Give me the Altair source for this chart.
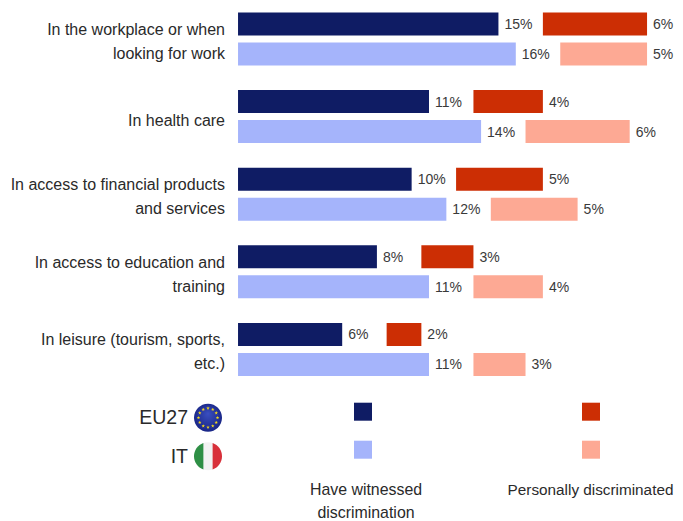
import math
import altair as alt
import pandas as pd

categories = ["In the workplace or when\nlooking for work", "In health care",
              "In access to financial products\nand services",
              "In access to education and\ntraining",
              "In leisure (tourism, sports,\netc.)"]
witnessed_eu = [15, 11, 10, 8, 6]
witnessed_it = [16, 14, 12, 11, 11]
personal_eu = [6, 4, 5, 3, 2]
personal_it = [5, 6, 5, 4, 3]
series = ["EU27", "IT"]
GAP = 2.56  # space (in % units) left between the two bars for the value label

FONT = "Liberation Sans"
TXT = "#3a3a3a"
W, H = 667, 513

rows = []
for i, c in enumerate(categories):
    for s, w, p in (("EU27", witnessed_eu[i], personal_eu[i]), ("IT", witnessed_it[i], personal_it[i])):
        rows.append(dict(cat=c, series=s, w=w, p=p, zero=0, p0=w + GAP, p1=w + GAP + p,
                         wl=f"{w}%", pl=f"{p}%"))
df = pd.DataFrame(rows)

xs = alt.Scale(domain=[-13.25, 25.17], range=[0, W], nice=False, zero=False)
ys = alt.Scale(domain=categories, range=[-7.8, 380.2], paddingInner=0, paddingOuter=0)
yo = alt.Scale(domain=series, paddingInner=0.233, paddingOuter=0.41)
Y = alt.Y("cat:N", scale=ys, axis=None)
YO = alt.YOffset("series:N", scale=yo)

base = alt.Chart(df)
bar_w = base.mark_bar(cornerRadius=0).encode(
    x=alt.X("zero:Q", scale=xs, axis=None), x2="w:Q", y=Y, yOffset=YO,
    color=alt.Color("series:N", scale=alt.Scale(domain=series, range=["#0f1c64", "#a5b4fb"]), legend=None))
bar_p = base.mark_bar(cornerRadius=0).encode(
    x=alt.X("p0:Q", scale=xs, axis=None), x2="p1:Q", y=Y, yOffset=YO,
    fill=alt.Fill("series:N", scale=alt.Scale(domain=series, range=["#cc2e04", "#fda994"]), legend=None))
lab_w = base.mark_text(font=FONT, fontSize=14, color=TXT, align="left", dx=6, dy=1).encode(
    x=alt.X("w:Q", scale=xs, axis=None), y=Y, yOffset=YO, text="wl:N")
lab_p = base.mark_text(font=FONT, fontSize=14, color=TXT, align="left", dx=6, dy=1).encode(
    x=alt.X("p1:Q", scale=xs, axis=None), y=Y, yOffset=YO, text="pl:N")

line_rows = []
for c in categories:
    parts = c.split("\n")
    line_rows.append(dict(cat=c, first=parts[0], second=parts[1] if len(parts) > 1 else ""))
lines = pd.DataFrame(line_rows)


def cat_layer(data, field, dy):
    return alt.Chart(data).mark_text(
        font=FONT, fontSize=16, color="#2a2a2a", align="right", dy=dy).encode(
        x=alt.value(217), y=alt.Y("cat:N", scale=ys, axis=None), text=f"{field}:N")


two = lines[lines["second"] != ""]
one = lines[lines["second"] == ""]
cat_labs = [cat_layer(two, "first", -9), cat_layer(two, "second", 15), cat_layer(one, "first", 4)]


def note(text, x, y, size=15.9, align="center", color="#2a2a2a"):
    return alt.Chart(pd.DataFrame({"t": [text]})).mark_text(
        font=FONT, fontSize=size, color=color, align=align).encode(
        x=alt.value(x), y=alt.value(y), text="t:N")


def square(x, y, color):
    return alt.Chart(pd.DataFrame({"t": [1]})).mark_square(size=324, color=color, opacity=1).encode(
        x=alt.value(x), y=alt.value(y))


def sym(path, x, y, size, **kw):
    return alt.Chart(pd.DataFrame({"t": [1]})).mark_point(shape=path, size=size, filled=True, opacity=1, **kw).encode(
        x=alt.value(x), y=alt.value(y))


def star(cx, cy, r):
    pts = []
    for k in range(10):
        a = -math.pi / 2 + k * math.pi / 5
        q = r if k % 2 == 0 else r * 0.4
        pts.append(f"{cx + q * math.cos(a):.3f} {cy + q * math.sin(a):.3f}")
    return "M" + "L".join(pts) + "Z"


stars = "".join(star(0.68 * math.cos(k * math.pi / 6), 0.68 * math.sin(k * math.pi / 6), 0.13) for k in range(12))
CIRCLE = "M-1 0A1 1 0 1 1 1 0A1 1 0 1 1 -1 0Z"
edge = 0.33
yy = math.sqrt(1 - edge * edge)
GREEN = f"M{-edge} {-yy}A1 1 0 0 0 {-edge} {yy}Z"
RED = f"M{edge} {-yy}A1 1 0 0 1 {edge} {yy}Z"
eu_fill = alt.RadialGradient(gradient="radial", x1=0.5, y1=0.35, r1=0, x2=0.5, y2=0.5, r2=0.6,
                             stops=[alt.GradientStop(offset=0, color="#3a4fc0"),
                                    alt.GradientStop(offset=1, color="#14207e")])

ex, ey, ix, iy = 200, 409.7, 200, 448.2
SZ = 784
chart = alt.layer(
    bar_w, bar_p, lab_w, lab_p, *cat_labs,
    note("EU27", 180, 409.5, size=19.5, align="right"),
    note("IT", 180, 448.5, size=19.5, align="right"),
    sym(CIRCLE, ex, ey, SZ, color=eu_fill),
    sym(stars, ex, ey, SZ, color="#f4d81c"),
    sym(CIRCLE, ix, iy, SZ, color="#f2f2f2"),
    sym(GREEN, ix, iy, SZ, color="#2e8f45"),
    sym(RED, ix, iy, SZ, color="#d8303a"),
    square(355, 403.7, "#0f1c64"), square(355, 441.7, "#a5b4fb"),
    square(583, 403.7, "#cc2e04"), square(583, 441.7, "#fda994"),
    note("Have witnessed", 358, 482), note("discrimination", 358, 505),
    note("Personally discriminated", 582.5, 482, size=15.3),
).resolve_scale(color="independent", fill="independent").properties(
    width=W, height=H, padding=0, autosize=alt.AutoSizeParams(type="none"),
    background="white").configure_view(stroke=None)

chart.save("out.html", embed_options={"renderer": "svg", "actions": False})
